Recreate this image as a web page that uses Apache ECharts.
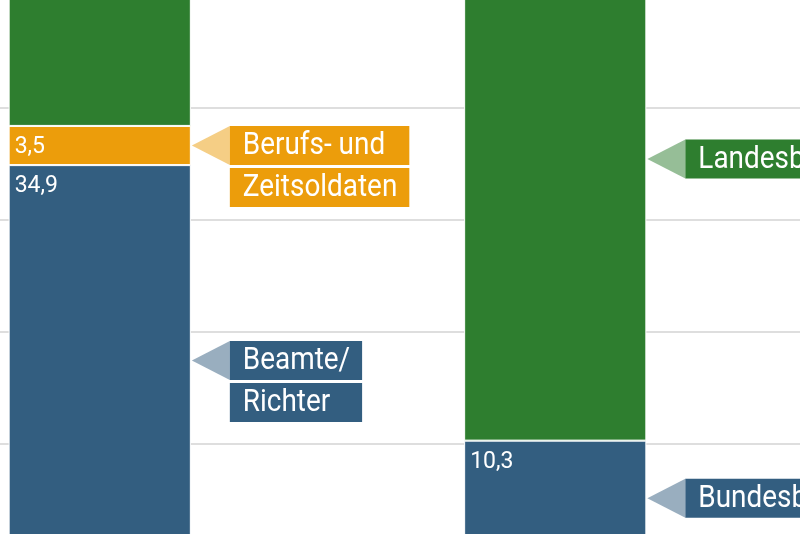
<!DOCTYPE html>
<html>
<head lang="de">
    <meta charset="UTF-8">
    <title>Versorgungsempfänger</title>
    <style>
        html, body { margin: 0; padding: 0; background: #fff; }
        #main { width: 800px; height: 534px; }
    </style>
</head>
<body>
<div id="main"></div>
<script src="https://cdn.jsdelivr.net/npm/echarts@6/dist/echarts.min.js"></script>
<script>
    // Daten (dritte Kategorie bleibt leer, liegt außerhalb des Bildes)
    var categories = ['Gruppe A', 'Gruppe B', ''];
    var blueValues = [34.9, 10.3, null];
    var orangeValues = [3.5, null, null];
    var greenValues = [61.6, 50.3, null];
    var yTicks = [0, 10, 20, 30, 40, 50, 60];

    // Beschriftungen mit Pfeil: Kategorie, Segment, Zeilen
    var calloutCats = [0, 0, 1, 1];
    var calloutSeries = ['blue', 'orange', 'green', 'blue'];
    var calloutTexts = [['Beamte/', 'Richter'], ['Berufs- und', 'Zeitsoldaten'], ['Landesbeamte'], ['Bundesbeamte']];

    var colors = { blue: '#335e80', orange: '#ec9d0b', green: '#2e7e2f' };
    var stackOrder = ['blue', 'orange', 'green'];
    var valuesBy = { blue: blueValues, orange: orangeValues, green: greenValues };

    // Segmentgrenzen aus den gestapelten Werten
    var calloutData = calloutCats.map(function (c, i) {
        var lo = 0;
        for (var k = 0; k < stackOrder.length; k++) {
            var v = valuesBy[stackOrder[k]][c] || 0;
            if (stackOrder[k] === calloutSeries[i]) return [c, lo, lo + v];
            lo += v;
        }
    });

    var FONT_SIZE = 31, SCALE_X = 0.9;
    var ctx = document.createElement('canvas').getContext('2d');
    ctx.font = FONT_SIZE + 'px Roboto';
    function textWidth(s) { return ctx.measureText(s).width * SCALE_X; }

    function renderCallout(params, api) {
        var i = params.dataIndex;
        var mid = api.coord([api.value(0), (api.value(1) + api.value(2)) / 2]);
        var band = api.size([1, 0])[0];
        var tipX = mid[0] + band * 0.2 + 1;
        var boxX = tipX + 38;
        var boxH = 39, gap = 3;
        var lines = calloutTexts[i];
        var w = 0;
        lines.forEach(function (l) { w = Math.max(w, textWidth(l)); });
        var boxW = w + 25;
        var color = colors[calloutSeries[i]];
        var top = mid[1] - boxH / 2;
        var children = [{
            type: 'polygon',
            shape: { points: [[tipX, mid[1]], [boxX, top], [boxX, top + boxH]] },
            style: { fill: color, opacity: 0.5 }
        }];
        lines.forEach(function (l, j) {
            var y = top + j * (boxH + gap);
            children.push({ type: 'rect', shape: { x: boxX, y: y, width: boxW, height: boxH }, style: { fill: color } });
            children.push({
                type: 'text', x: boxX + 13, y: y + boxH / 2 + 1, scaleX: SCALE_X,
                style: { text: l, fill: '#fff', fontSize: FONT_SIZE, fontFamily: 'Roboto', align: 'left', verticalAlign: 'middle' }
            });
        });
        return { type: 'group', children: children };
    }

    function valueLabel(show) {
        return {
            show: show,
            position: [6, 10],
            color: '#fff',
            fontSize: 23,
            fontFamily: 'Roboto',
            formatter: function (p) { return String(p.value).replace('.', ','); }
        };
    }

    function barSeries(key, show) {
        return {
            name: key,
            type: 'bar',
            stack: 'total',
            barWidth: '40%',
            data: valuesBy[key],
            itemStyle: { color: colors[key], borderColor: '#fff', borderWidth: 1 },
            label: valueLabel(show),
            silent: true
        };
    }

    var myChart = echarts.init(document.getElementById('main'));
    var option = {
        animation: false,
        grid: {
            left: -128, top: -116, width: 1366.5, height: 672,
            containLabel: false,
            outerBoundsMode: 'none'
        },
        xAxis: {
            type: 'category',
            data: categories,
            axisLine: { show: false },
            axisTick: { show: false },
            axisLabel: { show: false }
        },
        yAxis: {
            type: 'value',
            min: yTicks[0],
            max: yTicks[yTicks.length - 1],
            interval: yTicks[1] - yTicks[0],
            axisLine: { show: false },
            axisTick: { show: false },
            axisLabel: { show: false },
            splitLine: { lineStyle: { color: '#dedede', width: 2 } }
        },
        series: [
            barSeries('blue', true),
            barSeries('orange', true),
            barSeries('green', false),
            {
                type: 'custom',
                renderItem: renderCallout,
                data: calloutData,
                encode: { x: 0, y: [1, 2] },
                z: 5,
                silent: true
            }
        ]
    };
    myChart.setOption(option);
</script>
</body>
</html>
